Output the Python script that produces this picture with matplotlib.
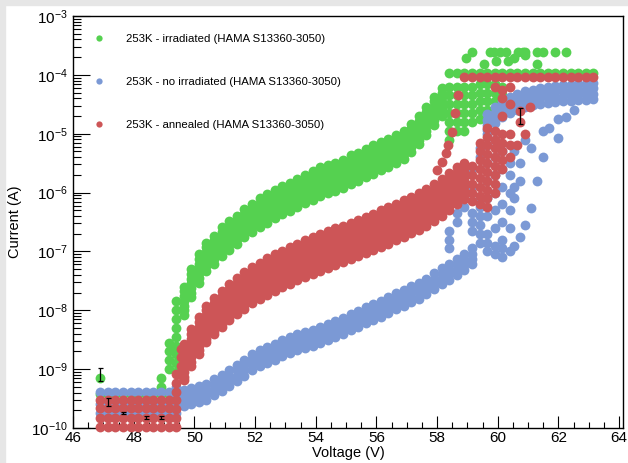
import numpy as np
import matplotlib
matplotlib.use("Agg")
import matplotlib.pyplot as plt
from matplotlib.lines import Line2D
from matplotlib.patches import Rectangle
from matplotlib.ticker import MultipleLocator, LogLocator, NullFormatter

plt.rcParams["font.family"] = ["Liberation Sans", "DejaVu Sans"]
plt.rcParams["mathtext.fontset"] = "custom"
plt.rcParams["mathtext.rm"] = "Liberation Sans"

# ---- data (log10 of current in A, voltage in V) ----
# voltage sweep points of the IV scans
SWEEP_V = [46.9, 47.15, 47.4, 47.65, 47.9, 48.15, 48.4, 48.65, 48.9, 49.15,
           49.4, 49.65, 49.9, 50.15, 50.4, 50.65, 50.9, 51.15, 51.4, 51.65,
           51.9, 52.15, 52.4, 52.65, 52.9, 53.15, 53.4, 53.65, 53.9, 54.15,
           54.4, 54.65, 54.9, 55.15, 55.4, 55.65, 55.9, 56.15, 56.4, 56.65,
           56.9, 57.15, 57.4, 57.65, 57.9, 58.15, 58.4, 58.65, 58.9, 59.15,
           59.4, 59.65, 59.9, 60.15, 60.4, 60.65, 60.9, 61.15, 61.4, 61.65,
           61.9, 62.15, 62.4, 62.65, 62.9, 63.15]

LABELS = ["253K - irradiated (HAMA S13360-3050)",
          "253K - no irradiated (HAMA S13360-3050)",
          "253K - annealed (HAMA S13360-3050)"]
COLORS = ["#55d150", "#7b99d5", "#cd5557"]

# irradiated
GREEN_FLAT = [-9.42]
GREEN_FIRST_V = [46.9]
GREEN_FIRST_LOG = [-9.15]
GREEN_RISE_V = [48.9, 48.9, 49.15, 49.15, 49.15, 49.15,
                49.4, 49.4, 49.4, 49.4, 49.4, 49.4, 49.4, 49.4, 49.4]
GREEN_RISE_LOG = [-9.3, -9.15, -9.0, -8.85, -8.7, -8.55,
                  -9.05, -8.9, -8.75, -8.6, -8.45, -8.3, -8.15, -8.0, -7.85]
GREEN_BODY_START = 49.65
GREEN_BODY = [-7.6, -7.3, -7.05, -6.85, -6.73, -6.59, -6.49, -6.39, -6.28, -6.19,
              -6.10, -6.03, -5.96, -5.89, -5.83, -5.77, -5.70, -5.64, -5.57, -5.53,
              -5.49, -5.44, -5.37, -5.32, -5.26, -5.20, -5.14, -5.09, -5.02, -4.95,
              -4.83, -4.70, -4.55, -4.37, -4.22]
GREEN_SHIFTS = [0.0, -0.08, -0.16, -0.24, -0.32, -0.40, -0.48]
GREEN_KNEE_V = [58.4, 58.4, 58.4, 58.4, 58.4, 58.4, 58.4,
                58.65, 58.65, 58.65, 58.65, 58.65, 58.65,
                58.9, 58.9, 58.9, 58.9, 58.9, 58.9,
                59.15, 59.15, 59.15, 59.15, 59.15,
                59.4, 59.4, 59.4, 59.4, 59.4,
                59.65, 59.65, 59.65, 59.65,
                59.9, 59.9, 59.9, 60.15, 60.15]
GREEN_KNEE_LOG = [-4.2, -4.35, -4.5, -4.65, -4.8, -4.95, -5.1,
                  -4.2, -4.35, -4.5, -4.65, -4.8, -4.95,
                  -4.2, -4.35, -4.5, -4.65, -4.8, -4.95,
                  -4.2, -4.35, -4.5, -4.65, -4.8,
                  -4.15, -4.3, -4.45, -4.6, -4.75,
                  -4.15, -4.3, -4.45, -4.6,
                  -4.15, -4.3, -4.45, -4.2, -4.35]
GREEN_COMPLIANCE = -3.97
GREEN_COMPLIANCE_START = 58.4
GREEN_HIGH_V = [59.15, 59.73, 59.88, 60.06, 60.28, 60.68, 60.82, 60.9, 61.28,
                61.48, 61.88, 62.26, 58.96, 59.55, 59.94, 60.33, 60.53, 60.9, 61.3]
GREEN_HIGH_LOG = [-3.61, -3.61, -3.61, -3.61, -3.61, -3.61, -3.62, -3.61, -3.61,
                  -3.61, -3.61, -3.61, -3.72, -3.81, -3.77, -3.77, -3.72, -3.66, -3.81]

# no irradiated
BLUE_FLAT = [-9.39, -9.59, -9.75]
BLUE_RISE_V = [49.4, 49.4, 49.4, 49.4]
BLUE_RISE_LOG = [-9.75, -9.6, -9.45, -9.3]
BLUE_BODY_START = 49.65
BLUE_BODY = [-9.35, -9.32, -9.29, -9.25, -9.17, -9.10, -9.02, -8.93, -8.84, -8.74,
             -8.68, -8.63, -8.57, -8.51, -8.46, -8.41, -8.37, -8.33, -8.29, -8.24,
             -8.18, -8.13, -8.07, -8.01, -7.95, -7.89, -7.84, -7.78, -7.71, -7.65,
             -7.59, -7.53, -7.46, -7.37, -7.29, -7.21, -7.13, -7.05, -6.95]
BLUE_SHIFTS = [0.0, -0.09, -0.18, -0.27]
BLUE_KNEE_V = [58.4, 58.4, 58.4, 58.65, 58.65, 58.9, 58.9,
               59.15, 59.15, 59.15, 59.15, 59.15,
               59.4, 59.4, 59.4, 59.4, 59.4, 59.4, 59.4, 59.4,
               59.65, 59.65, 59.65, 59.65, 59.65, 59.65, 59.65, 59.65, 59.65,
               59.9, 59.9, 59.9, 59.9, 59.9, 59.9, 59.9, 59.9,
               60.15, 60.15, 60.15, 60.15, 60.15, 60.15, 60.15, 60.15,
               60.4, 60.4, 60.4, 60.4, 60.4, 60.4,
               60.55, 60.55, 60.55, 60.55, 60.75, 60.75, 60.75,
               60.9, 60.9, 61.1, 61.1, 61.3, 61.5, 61.5, 61.7,
               62.0, 62.0, 62.25, 62.5]
BLUE_KNEE_LOG = [-6.95, -6.8, -6.65, -6.5, -6.35, -6.25, -6.1,
                 -6.65, -6.5, -6.35, -5.9, -5.6,
                 -6.85, -6.7, -6.55, -6.4, -6.25, -6.1, -5.4, -5.25,
                 -7.0, -6.85, -6.7, -6.4, -6.1, -5.8, -5.5, -5.2, -5.0,
                 -7.05, -6.9, -6.6, -6.3, -6.0, -5.7, -5.4, -5.1,
                 -7.1, -6.95, -6.8, -6.5, -6.2, -5.9, -5.6, -5.3,
                 -7.0, -6.6, -6.3, -6.0, -5.7, -5.5,
                 -6.9, -6.1, -5.9, -5.3, -6.75, -5.8, -5.5,
                 -6.55, -5.1, -6.26, -5.25, -5.8, -5.4, -4.95, -4.9,
                 -5.07, -4.75, -4.72, -4.6]
BLUE_HIGH_START = 59.65
BLUE_HIGH = [-4.67, -4.55, -4.45, -4.38, -4.32, -4.28, -4.25, -4.22,
             -4.2, -4.19, -4.18, -4.17, -4.16, -4.15, -4.14]

# annealed
RED_FLAT = [-9.52, -9.66, -9.83, -9.98]
RED_RISE_V = [49.4, 49.4, 49.4, 49.4, 49.4, 49.4, 49.4,
              49.55, 49.55, 49.55, 49.55]
RED_RISE_LOG = [-9.98, -9.83, -9.68, -9.53, -9.38, -9.23, -9.08,
                -9.1, -8.95, -8.8, -8.65]
RED_BODY_START = 49.65
RED_BODY = [-8.57, -8.32, -8.12, -7.92, -7.79, -7.67, -7.55, -7.45, -7.35, -7.26,
            -7.19, -7.12, -7.05, -6.99, -6.93, -6.87, -6.81, -6.76, -6.71, -6.66,
            -6.61, -6.56, -6.51, -6.46, -6.41, -6.36, -6.30, -6.25, -6.19, -6.13,
            -6.07, -6.01, -5.94, -5.86, -5.77, -5.67, -5.57, -5.49]
RED_SHIFTS = [0.0, -0.08, -0.16, -0.24, -0.32, -0.40, -0.48, -0.56, -0.62]
RED_STEEP_V = [58.0, 58.15, 58.3, 58.35, 58.5, 58.6, 58.7]
RED_STEEP_LOG = [-5.62, -5.48, -5.33, -5.19, -4.97, -4.65, -4.35]
RED_KNEE_V = [59.15, 59.15, 59.15, 59.15, 59.15,
              59.4, 59.4, 59.4, 59.4, 59.4, 59.4, 59.4, 59.4,
              59.65, 59.65, 59.65, 59.65, 59.65, 59.65, 59.65, 59.65, 59.65, 59.65,
              59.9, 59.9, 59.9, 59.9, 59.9, 59.9, 59.9, 59.9, 59.9,
              60.15, 60.15, 60.15, 60.15, 60.15, 60.15, 60.15, 60.15,
              60.4, 60.4, 60.4, 60.4, 60.4,
              60.72, 60.72, 60.65, 60.9, 61.05]
RED_KNEE_LOG = [-6.15, -6.0, -5.85, -5.7, -5.55,
                -6.2, -6.05, -5.9, -5.75, -5.6, -5.45, -5.3, -5.15,
                -6.25, -6.1, -5.95, -5.8, -5.65, -5.5, -5.35, -5.2, -5.05, -4.9,
                -6.0, -5.85, -5.7, -5.55, -5.4, -5.25, -5.1, -4.95, -4.2,
                -5.6, -5.45, -5.3, -5.15, -5.0, -4.7, -4.4, -4.25,
                -5.4, -5.2, -5.0, -4.5, -4.2,
                -4.62, -4.8, -5.2, -5.0, -4.55]
RED_COMPLIANCE = -4.04
RED_COMPLIANCE_START = 58.9

# error bars (log10 low / high)
ERR_V = [46.9, 47.15, 47.65, 48.4, 48.9, 60.72]
ERR_LO = [-9.2, -9.62, -9.77, -9.84, -9.84, -4.84]
ERR_HI = [-8.98, -9.49, -9.73, -9.79, -9.79, -4.57]

MARKER_S = 50


def dots(ax, v, logs, color, z):
    ax.scatter(v, np.power(10.0, np.asarray(logs, dtype=float)), s=MARKER_S,
               color=color, linewidths=0, clip_on=False, zorder=z)


def sweep_from(start, n):
    sel = [v for v in SWEEP_V if v >= start - 1e-6]
    return sel[:n]


def main():
    fig = plt.figure(figsize=(6.28, 4.63), dpi=100)
    fig.patch.set_facecolor("white")
    fig.add_artist(Rectangle((0, 1 - 5 / 463), 1, 5 / 463, transform=fig.transFigure,
                             color="#e6e6e6", zorder=0))
    fig.add_artist(Rectangle((0, 0), 5 / 628, 1, transform=fig.transFigure,
                             color="#e6e6e6", zorder=0))

    ax = fig.add_axes([73 / 628, 1 - 428 / 463, 550 / 628, 412 / 463])
    ax.set_yscale("log")
    ax.set_xlim(46, 64.13)
    ax.set_ylim(1e-10, 1e-3)

    flat_v = SWEEP_V[:10]
    g, b, r = COLORS

    # irradiated
    for lvl in GREEN_FLAT:
        dots(ax, flat_v, [lvl] * len(flat_v), g, 2)
    dots(ax, GREEN_FIRST_V, GREEN_FIRST_LOG, g, 2)
    dots(ax, GREEN_RISE_V, GREEN_RISE_LOG, g, 2)
    gv = sweep_from(GREEN_BODY_START, len(GREEN_BODY))
    for sh in GREEN_SHIFTS:
        dots(ax, gv, np.array(GREEN_BODY) + sh, g, 2)
    dots(ax, GREEN_KNEE_V, GREEN_KNEE_LOG, g, 2)
    cv = [v for v in SWEEP_V if v >= GREEN_COMPLIANCE_START - 1e-6]
    dots(ax, cv, [GREEN_COMPLIANCE] * len(cv), g, 2)
    dots(ax, GREEN_HIGH_V, GREEN_HIGH_LOG, g, 2)

    # no irradiated
    for lvl in BLUE_FLAT:
        dots(ax, flat_v, [lvl] * len(flat_v), b, 3)
    dots(ax, BLUE_RISE_V, BLUE_RISE_LOG, b, 3)
    bv = sweep_from(BLUE_BODY_START, len(BLUE_BODY))
    for sh in BLUE_SHIFTS:
        dots(ax, bv, np.array(BLUE_BODY) + sh, b, 3)
    dots(ax, BLUE_KNEE_V, BLUE_KNEE_LOG, b, 3)
    hv = sweep_from(BLUE_HIGH_START, len(BLUE_HIGH))
    for sh in BLUE_SHIFTS:
        dots(ax, hv, np.array(BLUE_HIGH) + sh, b, 3)

    # annealed
    for lvl in RED_FLAT:
        dots(ax, flat_v, [lvl] * len(flat_v), r, 4)
    dots(ax, RED_RISE_V, RED_RISE_LOG, r, 4)
    rv = sweep_from(RED_BODY_START, len(RED_BODY))
    for sh in RED_SHIFTS:
        dots(ax, rv, np.array(RED_BODY) + sh, r, 4)
    dots(ax, RED_STEEP_V, RED_STEEP_LOG, r, 4)
    dots(ax, RED_KNEE_V, RED_KNEE_LOG, r, 4)
    cv = [v for v in SWEEP_V if v >= RED_COMPLIANCE_START - 1e-6]
    dots(ax, cv, [RED_COMPLIANCE] * len(cv), r, 4)

    # error bars
    lo = np.power(10.0, np.array(ERR_LO))
    hi = np.power(10.0, np.array(ERR_HI))
    mid = np.sqrt(lo * hi)
    ax.errorbar(ERR_V, mid, yerr=[mid - lo, hi - mid], fmt="none", ecolor="black",
                elinewidth=0.9, capsize=1.8, capthick=0.9, zorder=6, clip_on=False)

    # axes styling
    ax.xaxis.set_major_locator(MultipleLocator(2))
    ax.xaxis.set_minor_locator(MultipleLocator(0.5))
    ax.yaxis.set_major_locator(LogLocator(base=10, numticks=20))
    ax.yaxis.set_minor_locator(LogLocator(base=10, subs=np.arange(2, 10), numticks=20))
    ax.yaxis.set_minor_formatter(NullFormatter())
    ax.tick_params(which="both", direction="in", top=False, right=False,
                   width=0.8, labelsize=11, colors="black")
    ax.tick_params(axis="y", which="major", length=12, pad=4)
    ax.tick_params(axis="y", which="minor", length=6)
    ax.tick_params(axis="x", which="major", length=8.5, pad=2)
    ax.tick_params(axis="x", which="minor", length=4.3)
    for sp in ax.spines.values():
        sp.set_linewidth(1.0)

    ax.set_xlabel("Voltage (V)", fontsize=10.5)
    ax.set_ylabel("Current (A)", fontsize=10.5)
    ax.xaxis.set_label_coords(0.5, -0.044)
    ax.yaxis.set_label_coords(-0.093, 0.5)

    handles = [Line2D([], [], ls="none", marker="o", ms=4.5, color=c, mew=0)
               for c in COLORS]
    ax.legend(handles, LABELS, loc="upper left", bbox_to_anchor=(0.0366, 0.9565),
              frameon=False, fontsize=8.2, borderpad=0, borderaxespad=0,
              handlelength=1.0, handletextpad=1.9, labelspacing=2.88)

    fig.savefig("out.png", dpi=100)
    plt.close(fig)


if __name__ == "__main__":
    main()
